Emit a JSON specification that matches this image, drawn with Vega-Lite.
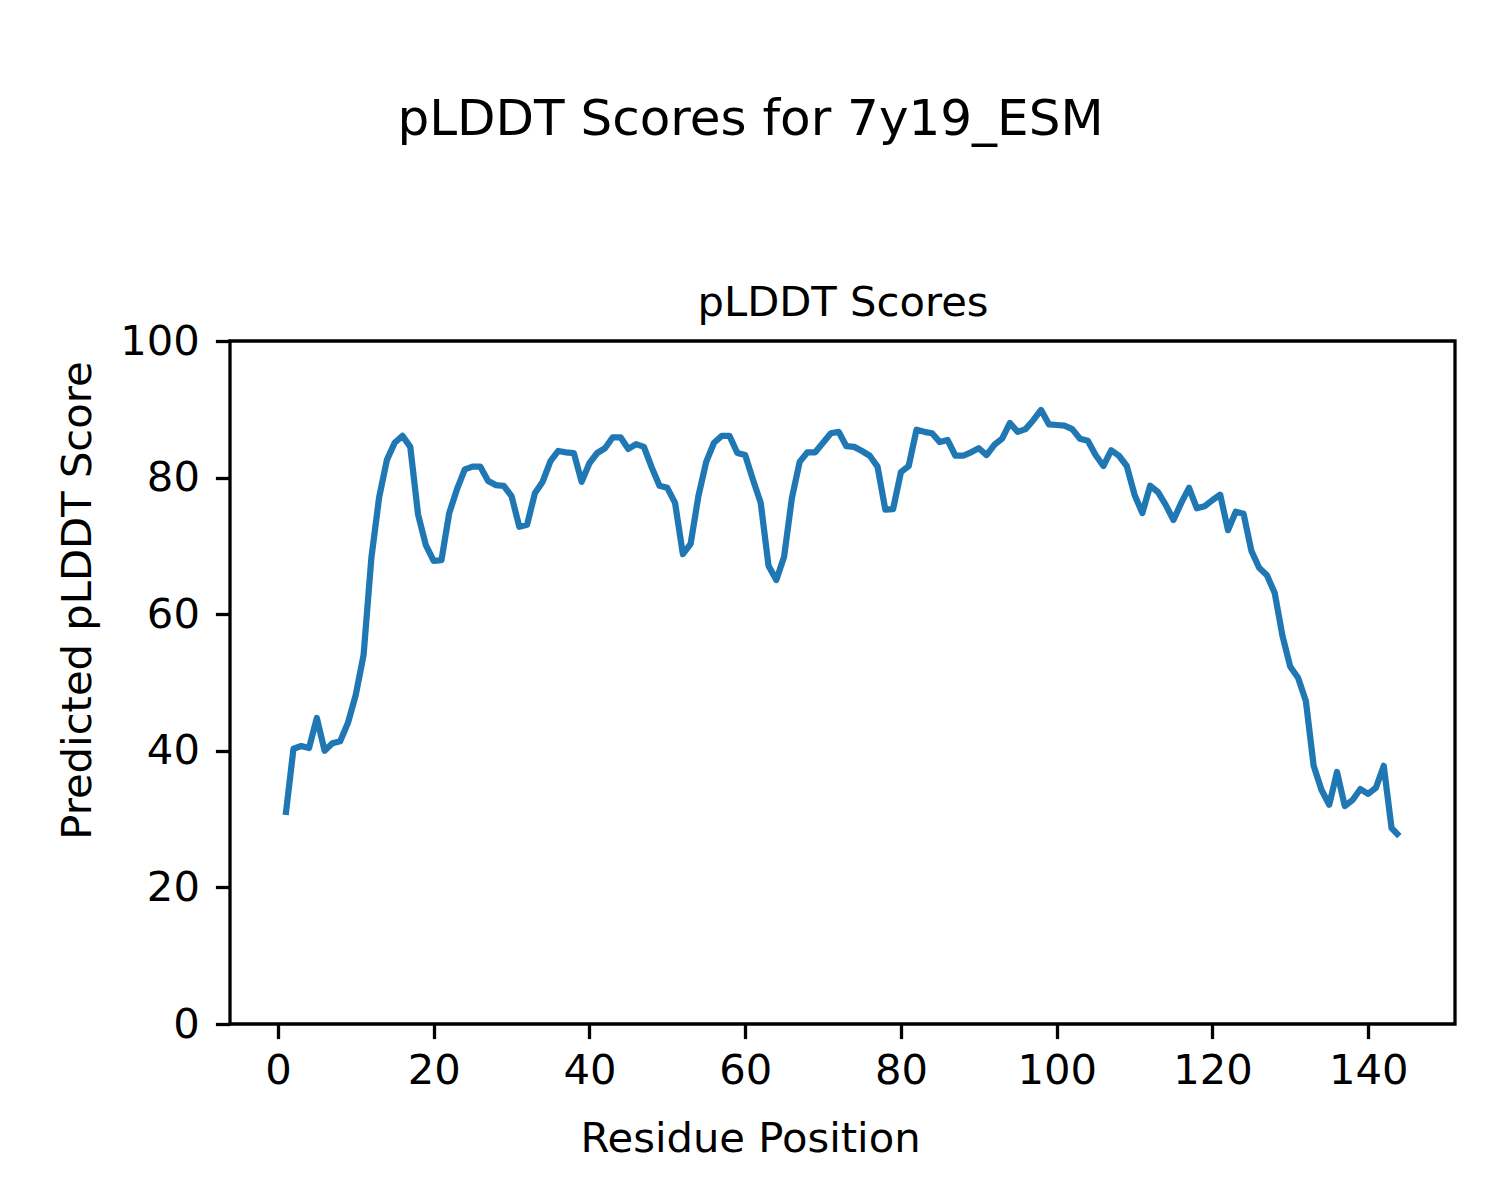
{
  "$schema": "https://vega.github.io/schema/vega-lite/v6.json",
  "width": 1225,
  "height": 683,
  "autosize": {"type": "none"},
  "padding": {"left": 230, "top": 341, "right": 45, "bottom": 176},
  "background": "white",
  "config": {
    "font": "DejaVu Sans",
    "view": {"stroke": "black", "strokeWidth": 3.3},
    "axis": {"grid": false, "labelFont": "DejaVu Sans", "titleFont": "DejaVu Sans", "labelColor": "black", "titleColor": "black", "titleFontWeight": "normal", "domainColor": "black", "tickColor": "black"}
  },
  "title": {
    "text": "pLDDT Scores for 7y19_ESM",
    "fontSize": 50,
    "fontWeight": "normal",
    "font": "DejaVu Sans",
    "color": "black",
    "anchor": "middle",
    "dx": -92,
    "offset": 137
  },
  "data": {
    "values": [
      {"r":1,"s":30.6},{"r":2,"s":40.3},{"r":3,"s":40.7},{"r":4,"s":40.4},{"r":5,"s":44.8},{"r":6,"s":40.0},{"r":7,"s":41.1},{"r":8,"s":41.4},{"r":9,"s":44.1},{"r":10,"s":48.2},
      {"r":11,"s":54.0},{"r":12,"s":68.2},{"r":13,"s":77.1},{"r":14,"s":82.6},{"r":15,"s":85.1},{"r":16,"s":86.1},{"r":17,"s":84.5},{"r":18,"s":74.6},{"r":19,"s":70.1},{"r":20,"s":67.8},
      {"r":21,"s":67.9},{"r":22,"s":74.8},{"r":23,"s":78.3},{"r":24,"s":81.2},{"r":25,"s":81.6},{"r":26,"s":81.6},{"r":27,"s":79.5},{"r":28,"s":78.9},{"r":29,"s":78.8},{"r":30,"s":77.3},
      {"r":31,"s":72.8},{"r":32,"s":73.1},{"r":33,"s":77.7},{"r":34,"s":79.4},{"r":35,"s":82.4},{"r":36,"s":83.9},{"r":37,"s":83.7},{"r":38,"s":83.6},{"r":39,"s":79.4},{"r":40,"s":82.1},
      {"r":41,"s":83.6},{"r":42,"s":84.3},{"r":43,"s":85.9},{"r":44,"s":85.9},{"r":45,"s":84.2},{"r":46,"s":84.9},{"r":47,"s":84.5},{"r":48,"s":81.5},{"r":49,"s":78.8},{"r":50,"s":78.5},
      {"r":51,"s":76.3},{"r":52,"s":68.8},{"r":53,"s":70.3},{"r":54,"s":77.3},{"r":55,"s":82.3},{"r":56,"s":85.1},{"r":57,"s":86.1},{"r":58,"s":86.1},{"r":59,"s":83.6},{"r":60,"s":83.3},
      {"r":61,"s":79.7},{"r":62,"s":76.3},{"r":63,"s":67.1},{"r":64,"s":65.0},{"r":65,"s":68.4},{"r":66,"s":77.0},{"r":67,"s":82.3},{"r":68,"s":83.7},{"r":69,"s":83.7},{"r":70,"s":85.1},
      {"r":71,"s":86.5},{"r":72,"s":86.7},{"r":73,"s":84.6},{"r":74,"s":84.5},{"r":75,"s":83.9},{"r":76,"s":83.2},{"r":77,"s":81.6},{"r":78,"s":75.3},{"r":79,"s":75.4},{"r":80,"s":80.8},
      {"r":81,"s":81.7},{"r":82,"s":87.0},{"r":83,"s":86.7},{"r":84,"s":86.5},{"r":85,"s":85.2},{"r":86,"s":85.5},{"r":87,"s":83.2},{"r":88,"s":83.2},{"r":89,"s":83.7},{"r":90,"s":84.3},
      {"r":91,"s":83.3},{"r":92,"s":84.8},{"r":93,"s":85.7},{"r":94,"s":88.0},{"r":95,"s":86.7},{"r":96,"s":87.1},{"r":97,"s":88.4},{"r":98,"s":89.9},{"r":99,"s":87.8},{"r":100,"s":87.7},
      {"r":101,"s":87.6},{"r":102,"s":87.1},{"r":103,"s":85.7},{"r":104,"s":85.4},{"r":105,"s":83.3},{"r":106,"s":81.7},{"r":107,"s":84.0},{"r":108,"s":83.2},{"r":109,"s":81.7},{"r":110,"s":77.5},
      {"r":111,"s":74.8},{"r":112,"s":78.8},{"r":113,"s":77.9},{"r":114,"s":76.0},{"r":115,"s":73.8},{"r":116,"s":76.3},{"r":117,"s":78.5},{"r":118,"s":75.5},{"r":119,"s":75.8},{"r":120,"s":76.7},
      {"r":121,"s":77.5},{"r":122,"s":72.3},{"r":123,"s":75.0},{"r":124,"s":74.7},{"r":125,"s":69.3},{"r":126,"s":66.8},{"r":127,"s":65.7},{"r":128,"s":63.1},{"r":129,"s":56.8},{"r":130,"s":52.3},
      {"r":131,"s":50.7},{"r":132,"s":47.3},{"r":133,"s":37.8},{"r":134,"s":34.3},{"r":135,"s":32.1},{"r":136,"s":36.9},{"r":137,"s":31.9},{"r":138,"s":32.8},{"r":139,"s":34.4},{"r":140,"s":33.7},
      {"r":141,"s":34.6},{"r":142,"s":37.8},{"r":143,"s":28.7},{"r":144,"s":27.5}
    ]
  },
  "layer": [
    {
      "mark": {"type": "line", "color": "#1f77b4", "strokeWidth": 6.25, "strokeJoin": "round", "strokeCap": "butt"},
      "encoding": {
        "x": {"field": "r", "type": "quantitative", "scale": {"domain": [-6.15, 151.15], "nice": false, "zero": false},
          "axis": {"orient": "bottom", "values": [0,20,40,60,80,100,120,140], "title": "Residue Position", "titleFontSize": 41.7, "labelFontSize": 41.7, "tickSize": 14.6, "tickWidth": 3.3, "domain": false, "labelPadding": 12, "titlePadding": 26, "titleX": 520, "titleAnchor": "middle", "titleAlign": "center", "labelFlush": false}},
        "y": {"field": "s", "type": "quantitative", "scale": {"domain": [0, 100], "nice": false},
          "axis": {"values": [0,20,40,60,80,100], "title": "Predicted pLDDT Score", "titleFontSize": 41.7, "labelFontSize": 41.7, "tickSize": 14.6, "tickWidth": 3.3, "domain": false, "labelPadding": 16, "titlePadding": 20, "titleY": 259, "titleAlign": "center", "labelFlush": false}}
      }
    },
    {
      "mark": {"type": "line", "strokeOpacity": 0},
      "encoding": {
        "x": {"field": "r", "type": "quantitative",
          "axis": {"orient": "top", "title": "pLDDT Scores", "titleFontSize": 41.7, "labels": false, "ticks": false, "domain": false, "titlePadding": 17}},
        "y": {"field": "s", "type": "quantitative"}
      }
    }
  ],
  "resolve": {"axis": {"x": "independent"}}
}
